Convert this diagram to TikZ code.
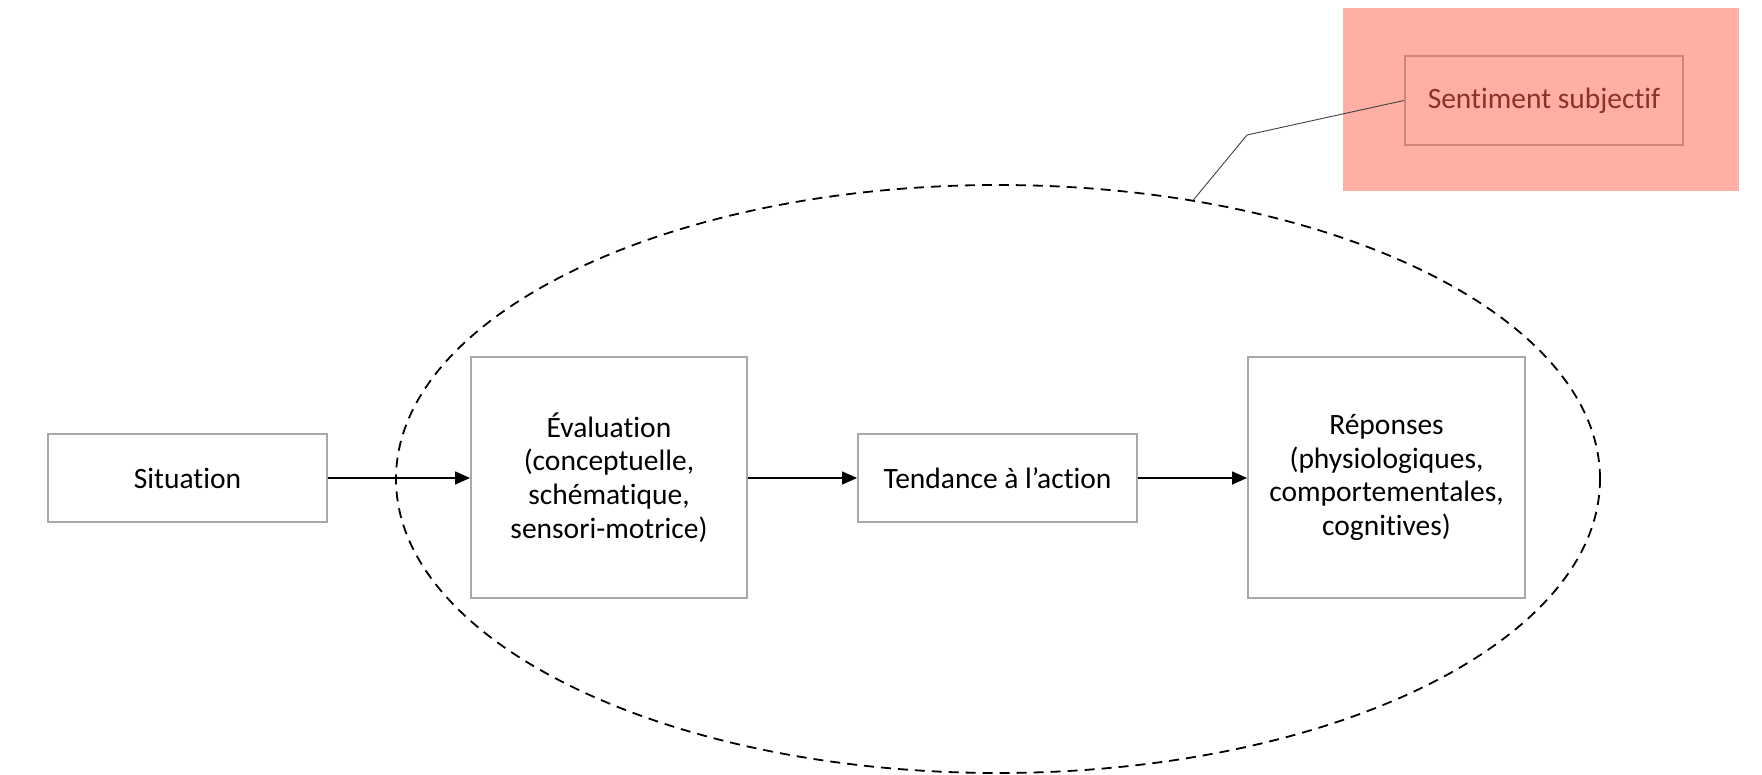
\documentclass[tikz,border=0pt]{standalone}
\usepackage{fontspec}
\setmainfont[RawFeature={-liga;-dlig}]{Carlito}
\usetikzlibrary{shapes.geometric,arrows.meta}
\definecolor{boxgrey}{HTML}{A8A8A8}
\definecolor{salmon}{HTML}{FFAFA4}
\definecolor{salmonedge}{HTML}{D4837A}
\definecolor{salmontext}{HTML}{8A3328}
\tikzset{
  stage/.style={draw=boxgrey, line width=2pt, fill=white, rectangle, align=center,
    inner sep=0pt, font=\fontsize{29.5}{33.7}\selectfont},
  flow/.style={line width=1.6pt, -{Triangle[length=15pt,width=13pt]}},
}
\begin{document}
\begin{tikzpicture}[x=1pt,y=-1pt]
  \useasboundingbox (0,0) rectangle (1762,775);
  % dashed envelope around the emotion process
  \node[draw, dashed, dash pattern=on 10pt off 7pt, line width=1.8pt, ellipse,
        minimum width=1204pt, minimum height=588pt, inner sep=0pt] (ell) at (998,479) {};
  % highlighted area with the subjective feeling
  \node[fill=salmon, minimum width=396pt, minimum height=183pt, inner sep=0pt] (zone) at (1541,99.5) {};
  \node[draw=salmonedge, line width=2pt, minimum width=278pt, minimum height=89pt, inner sep=0pt,
        text=salmontext, font=\fontsize{29.5}{33.7}\selectfont] (sent) at (1544,100.5) {Sentiment subjectif};
  % process stages
  \node[stage, minimum width=279pt, minimum height=88pt] (sit) at (187.5,478) {Situation};
  \node[stage, minimum width=276pt, minimum height=241pt] (eval) at (609,477.5)
    {Évaluation\\(conceptuelle,\\schématique,\\sensori-motrice)};
  \node[stage, minimum width=279pt, minimum height=88pt] (tend) at (997.5,478) {Tendance à l’action};
  \node[stage, minimum width=277pt, minimum height=241pt] (rep) at (1386.5,477.5)
    {Réponses\\(physiologiques,\\comportementales,\\cognitives)};
  % arrows between stages
  \draw[flow] (sit.east) -- (sit.east -| eval.west);
  \draw[flow] (eval.east |- tend.west) -- (tend.west);
  \draw[flow] (tend.east) -- (tend.east -| rep.west);
  % callout line to the feeling box
  \coordinate (bend) at (1247,135);
  \draw[line width=0.9pt, black!75] (ell.55) -- (bend) -- (sent.west);
\end{tikzpicture}
\end{document}
